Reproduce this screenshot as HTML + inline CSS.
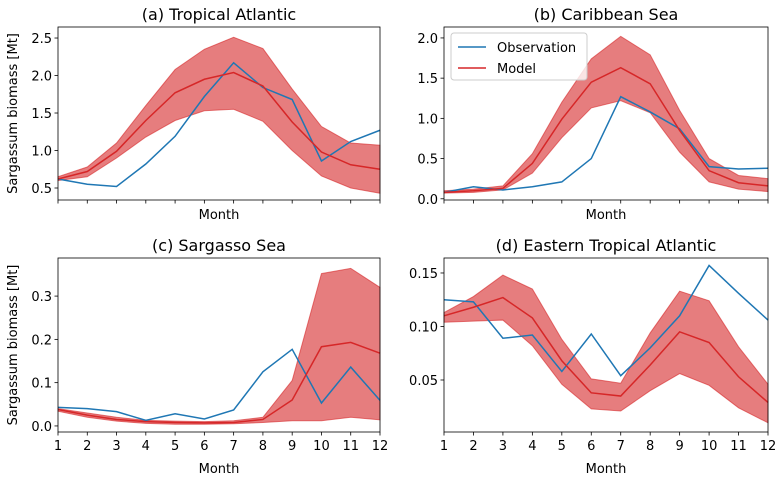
<!DOCTYPE html>
<html><head><meta charset="utf-8">
<style>
body{margin:0;background:#fff;}
svg{display:block;font-family:"DejaVu Sans","Liberation Sans",sans-serif;}
</style></head>
<body>
<svg id="chart" width="783" height="480" viewBox="0 0 783 480" xmlns="http://www.w3.org/2000/svg"></svg>
<script>
const months = [1,2,3,4,5,6,7,8,9,10,11,12];
const titles = ["(a) Tropical Atlantic","(b) Caribbean Sea","(c) Sargasso Sea","(d) Eastern Tropical Atlantic"];
const obsA = [0.62,0.55,0.52,0.82,1.19,1.72,2.17,1.84,1.68,0.86,1.12,1.27];
const modA = [0.62,0.72,0.99,1.40,1.77,1.95,2.04,1.86,1.38,0.98,0.81,0.75];
const loA  = [0.60,0.65,0.90,1.18,1.40,1.53,1.55,1.39,1.00,0.66,0.50,0.43];
const hiA  = [0.65,0.78,1.10,1.60,2.08,2.35,2.51,2.36,1.82,1.32,1.10,1.07];
const obsB = [0.08,0.15,0.11,0.15,0.21,0.50,1.27,1.08,0.87,0.40,0.37,0.38];
const modB = [0.08,0.10,0.13,0.44,0.99,1.45,1.63,1.43,0.85,0.35,0.20,0.16];
const loB  = [0.07,0.08,0.11,0.32,0.76,1.13,1.22,1.07,0.58,0.21,0.12,0.09];
const hiB  = [0.10,0.12,0.16,0.56,1.20,1.74,2.02,1.79,1.10,0.50,0.29,0.25];
const obsC = [0.043,0.040,0.033,0.013,0.028,0.016,0.037,0.125,0.177,0.053,0.136,0.059];
const modC = [0.038,0.025,0.015,0.010,0.008,0.007,0.008,0.015,0.060,0.183,0.193,0.168];
const loC  = [0.034,0.020,0.011,0.006,0.004,0.004,0.005,0.008,0.012,0.012,0.020,0.014];
const hiC  = [0.040,0.030,0.020,0.013,0.011,0.010,0.012,0.020,0.105,0.352,0.364,0.320];
const obsD = [0.125,0.123,0.089,0.092,0.058,0.093,0.054,0.080,0.110,0.157,0.131,0.106];
const modD = [0.110,0.118,0.127,0.108,0.068,0.038,0.035,0.064,0.095,0.085,0.053,0.029];
const loD  = [0.104,0.105,0.106,0.082,0.046,0.023,0.021,0.040,0.056,0.045,0.024,0.010];
const hiD  = [0.113,0.128,0.148,0.135,0.088,0.051,0.047,0.094,0.133,0.124,0.081,0.046];
const ticksA = [0.5,1.0,1.5,2.0,2.5];
const ticksB = [0.0,0.5,1.0,1.5,2.0];
const ticksC = [0.0,0.1,0.2,0.3];
const ticksD = [0.05,0.10,0.15];

const NS="http://www.w3.org/2000/svg";
const svg=document.getElementById('chart');
function mk(tag,attrs,parent){const e=document.createElementNS(NS,tag);for(const k in attrs)e.setAttribute(k,attrs[k]);(parent||svg).appendChild(e);return e;}

const panels=[
 {x0:58,x1:380,y0:27,y1:200,ymin:0.34,ymax:2.647,obs:obsA,mod:modA,lo:loA,hi:hiA,ticks:ticksA,dec:1,xl:false,yl:true,leg:false},
 {x0:444,x1:768,y0:27,y1:200,ymin:-0.015,ymax:2.136,obs:obsB,mod:modB,lo:loB,hi:hiB,ticks:ticksB,dec:1,xl:false,yl:false,leg:true},
 {x0:58,x1:380,y0:258,y1:432,ymin:-0.014,ymax:0.388,obs:obsC,mod:modC,lo:loC,hi:hiC,ticks:ticksC,dec:1,xl:true,yl:true,leg:false},
 {x0:444,x1:768,y0:258,y1:432,ymin:0.0014,ymax:0.164,obs:obsD,mod:modD,lo:loD,hi:hiD,ticks:ticksD,dec:2,xl:true,yl:false,leg:false}
];

panels.forEach((p,i)=>{
  const g=mk('g',{});
  
  
  const xs=m=>p.x0+(m-1)/11*(p.x1-p.x0);
  const ys=v=>p.y1-(v-p.ymin)/(p.ymax-p.ymin)*(p.y1-p.y0);
  let d='M'+months.map((m,k)=>xs(m)+','+ys(p.hi[k])).join('L');
  d+='L'+months.slice().reverse().map((m,k)=>xs(m)+','+ys(p.lo[11-k])).join('L')+'Z';
  const band=mk('path',{d:d,fill:'rgb(214,39,40)','fill-opacity':0.6,stroke:'rgb(214,39,40)','stroke-opacity':0.6,'stroke-width':1},g);
  
  
  const ol=mk('polyline',{points:months.map((m,k)=>xs(m)+','+ys(p.obs[k])).join(' '),fill:'none',stroke:'#1f77b4','stroke-width':1.5},g);
  
  
  const ml=mk('polyline',{points:months.map((m,k)=>xs(m)+','+ys(p.mod[k])).join(' '),fill:'none',stroke:'#d62728','stroke-width':1.5},g);
  
  
  const fr=mk('rect',{x:p.x0,y:p.y0,width:p.x1-p.x0,height:p.y1-p.y0,fill:'none',stroke:'#000','stroke-width':0.8},g);
  
  
  p.ticks.forEach(t=>{
    const y=ys(t);
    mk('line',{x1:p.x0-3.5,x2:p.x0,y1:y,y2:y,stroke:'#000','stroke-width':0.8},g);
    const tx=mk('text',{x:p.x0-6,y:y+5,'text-anchor':'end','font-size':13,fill:'#000'},g);
    tx.textContent=t.toFixed(p.dec);
    
    
  });
  months.forEach(m=>{
    const x=xs(m);
    mk('line',{x1:x,x2:x,y1:p.y1,y2:p.y1+3.5,stroke:'#000','stroke-width':0.8},g);
    if(p.xl){
      const tx=mk('text',{x:x,y:p.y1+18,'text-anchor':'middle','font-size':13,fill:'#000'},g);
      tx.textContent=m;
      
      
    }
  });
  const xt=mk('text',{x:(p.x0+p.x1)/2,y:p.xl?p.y1+41:p.y1+19,'text-anchor':'middle','font-size':13,fill:'#000'},g);
  xt.textContent='Month';
  
  
  const tt=mk('text',{x:(p.x0+p.x1)/2,y:p.y0-7,'text-anchor':'middle','font-size':16,fill:'#000'},g);
  tt.textContent=titles[i];
  
  
  if(p.yl){
    const cy=(p.y0+p.y1)/2;
    const yt=mk('text',{x:17,y:cy,'text-anchor':'middle','font-size':13,fill:'#000',transform:'rotate(-90 17 '+cy+')'},g);
    yt.textContent='Sargassum biomass [Mt]';
    
    
  }
  if(p.leg){
    const lg=mk('g',{},g);
    
    
    mk('rect',{x:451,y:33,width:136,height:47,rx:3,fill:'#fff','fill-opacity':0.8,stroke:'#ccc','stroke-width':1},lg);
    mk('line',{x1:458,x2:486,y1:47,y2:47,stroke:'#1f77b4','stroke-width':1.5},lg);
    const t1=mk('text',{x:497,y:52,'font-size':13,fill:'#000'},lg);
    t1.textContent='Observation';
    
    
    mk('line',{x1:458,x2:486,y1:68,y2:68,stroke:'#d62728','stroke-width':1.5},lg);
    const t2=mk('text',{x:497,y:73,'font-size':13,fill:'#000'},lg);
    t2.textContent='Model';
    
    
  }
});
</script>
</body></html>
